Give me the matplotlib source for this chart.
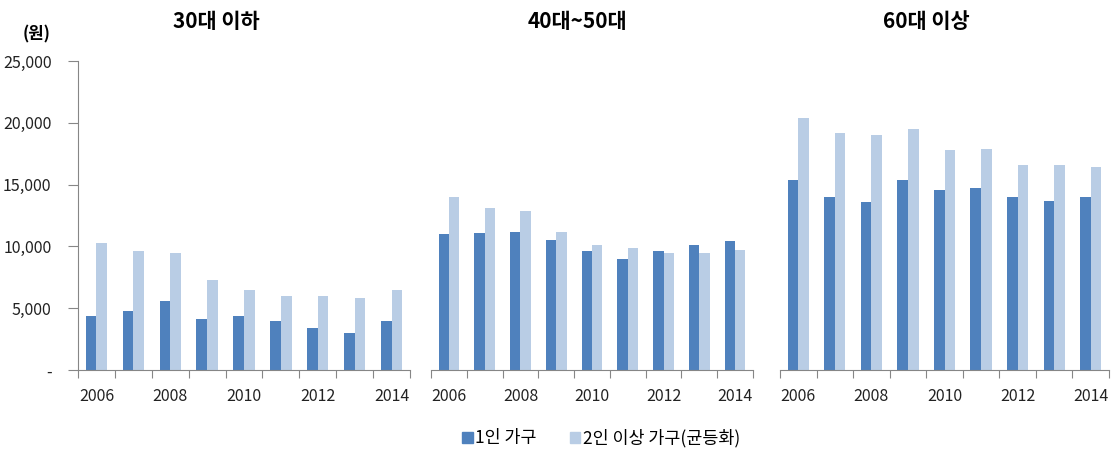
import numpy as np
import matplotlib
matplotlib.use("Agg")
import matplotlib.pyplot as plt
from matplotlib.ticker import FuncFormatter
from matplotlib.patches import Patch

plt.rcParams['font.family'] = ['Noto Sans CJK KR', 'DejaVu Sans']

years = [2006, 2007, 2008, 2009, 2010, 2011, 2012, 2013, 2014]
groups = ["30대 이하", "40대~50대", "60대 이상"]
series_names = ["1인 가구", "2인 이상 가구(균등화)"]

single_30 = [4400, 4800, 5600, 4100, 4400, 4000, 3400, 3000, 4000]
multi_30 = [10300, 9600, 9500, 7300, 6500, 6000, 6000, 5800, 6500]
single_40 = [11000, 11100, 11200, 10500, 9600, 9000, 9600, 10100, 10400]
multi_40 = [14000, 13100, 12900, 11200, 10100, 9900, 9500, 9500, 9700]
single_60 = [15400, 14000, 13600, 15400, 14600, 14700, 14000, 13700, 14000]
multi_60 = [20400, 19200, 19000, 19500, 17800, 17900, 16600, 16600, 16400]

data = [(single_30, multi_30), (single_40, multi_40), (single_60, multi_60)]

dark = "#4F81BD"
light = "#B9CDE5"
axis_col = "#868686"

fig = plt.figure(figsize=(11.17, 4.70), dpi=100)
rects = [
    [78 / 1117, 100 / 470, 332 / 1117, 309 / 470],
    [431 / 1117, 100 / 470, 322 / 1117, 309 / 470],
    [780 / 1117, 100 / 470, 329 / 1117, 309 / 470],
]
title_x = [216, 577, 926]

x = np.arange(len(years))
w = 0.29
for i, (s1, s2) in enumerate(data):
    ax = fig.add_axes(rects[i])
    ax.bar(x - w / 2, s1, width=w, color=dark)
    ax.bar(x + w / 2, s2, width=w, color=light)
    ax.set_xlim(-0.5, len(years) - 0.5)
    ax.set_ylim(0, 25000)
    for sp in ["top", "right"]:
        ax.spines[sp].set_visible(False)
    ax.spines["bottom"].set_color(axis_col)
    ax.set_xticks(np.arange(-0.5, len(years), 1.0))
    ax.set_xticklabels([])
    ax.tick_params(axis="x", which="major", direction="out", length=6, color=axis_col)
    ax.set_xticks(x[::2], minor=True)
    ax.set_xticklabels([str(y) for y in years[::2]], minor=True)
    ax.tick_params(axis="x", which="minor", length=0, pad=13, labelsize=11.5, labelcolor="#222222")
    if i == 0:
        ax.spines["left"].set_color(axis_col)
        ax.set_yticks(np.arange(0, 25001, 5000))
        ax.yaxis.set_major_formatter(FuncFormatter(lambda v, p: "-" if v == 0 else f"{int(v):,}"))
        ax.tick_params(axis="y", direction="out", length=7, color=axis_col, labelsize=11.5,
                       labelcolor="#222222", pad=12)
    else:
        ax.spines["left"].set_visible(False)
        ax.set_yticks([])
    fig.text(title_x[i] / 1117, 1 - 22 / 470, groups[i], ha="center", va="center",
             fontsize=15, fontweight="bold")

fig.text(37 / 1117, 1 - 34 / 470, "(원)", ha="center", va="center", fontsize=12, fontweight="bold")

handles = [Patch(color=dark, label=series_names[0]), Patch(color=light, label=series_names[1])]
fig.legend(handles=handles, loc="center", bbox_to_anchor=(601 / 1117, 32 / 470), ncol=2,
           frameon=False, fontsize=12.5, handlelength=0.6, handleheight=0.6, handletextpad=0.15,
           columnspacing=1.9)

fig.savefig("out.png", dpi=100)
